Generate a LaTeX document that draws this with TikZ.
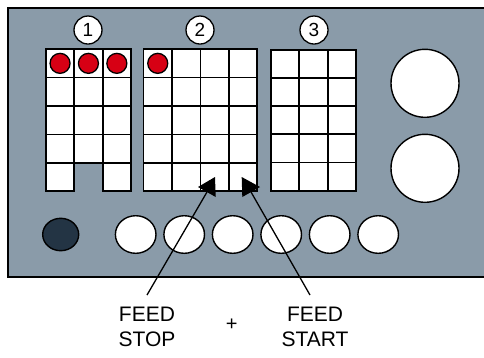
\documentclass[tikz,border=0pt]{standalone}
\usepackage{fontspec}
\setmainfont{Liberation Sans}
\usetikzlibrary{shapes.geometric,positioning}
\definecolor{panelgrey}{RGB}{138,155,169}
\definecolor{knobdark}{RGB}{35,52,68}
\definecolor{ledred}{RGB}{215,0,20}

\tikzset{
  cell/.style={draw,fill=white,line width=1.7pt,minimum size=28.4pt,inner sep=0pt,anchor=north west},
  led/.style={circle,draw,fill=ledred,line width=1.3pt,minimum size=20pt,inner sep=0pt},
  tag/.style={circle,draw,fill=white,line width=1.3pt,minimum size=28pt,inner sep=0pt,font=\fontsize{19}{19}\selectfont},
  bigknob/.style={circle,draw,fill=white,line width=1.4pt,minimum size=68pt,inner sep=0pt},
  key/.style={ellipse,draw,fill=white,line width=1.4pt,minimum width=40.6pt,minimum height=37.6pt,inner sep=0pt},
  label/.style={align=center,font=\fontsize{21}{25}\selectfont}
}

\begin{document}
\begin{tikzpicture}[x=1pt,y=-1pt]
  \useasboundingbox (0,0) rectangle (484,357);
  % panel
  \begin{scope}
    \clip (0,0) rectangle (484,357);
    \draw[fill=panelgrey,line width=1.6pt] (8,8) rectangle (492,277);
  \end{scope}
  % block 1
  \foreach \c in {0,1,2}
    \foreach \r in {0,...,3}
      \node[cell] (a\c\r) at ({45+28.4*\c},{48.3+28.4*\r}) {};
  \foreach \c in {0,2}
    \node[cell] (a\c4) at ({45+28.4*\c},{48.3+28.4*4}) {};
  % block 2
  \foreach \c in {0,...,3}
    \foreach \r in {0,...,4}
      \node[cell] (b\c\r) at ({142.7+28.4*\c},{48.3+28.4*\r}) {};
  % block 3
  \foreach \c in {0,1,2}
    \foreach \r in {0,...,4}
      \node[cell] (c\c\r) at ({270+28.4*\c},{48.8+28.2*\r}) {};
  % leds
  \foreach \c in {0,1,2}
    \node[led] at (a\c0.center) {};
  \node[led] at (b00.center) {};
  % block numbers
  \node[tag] (t1) at (88,30) {1};
  \node[tag] (t2) at (200,30) {2};
  \node[tag] (t3) at (314,30) {3};
  % right knobs
  \node[bigknob] (k1) at (425,83.3) {};
  \node[bigknob] (k2) at (425,168.3) {};
  % bottom keys
  \node[key,fill=knobdark,minimum width=36pt,minimum height=32.4pt] (dk) at (60.7,234.5) {};
  \foreach \i in {0,...,5}
    \node[key] (key\i) at ({135.7+48.5*\i},234.5) {};
  % labels
  \node[label] (stop) at (147,327) {FEED\\STOP};
  \node[label] (start) at (315,327) {FEED\\START};
  \node[font=\fontsize{20}{20}\selectfont] (plus) at (231.7,325) {+};
  % arrows
  \coordinate (stoptail) at (147,295);
  \coordinate (stophead) at (207,192);
  \coordinate (starttail) at (310,295);
  \coordinate (starthead) at (251,192);
  \draw[line width=1.3pt] (stoptail) -- (stophead);
  \draw[line width=1.3pt] (starttail) -- (starthead);
  \fill (198,187) -- (215,177) -- (215.7,197) -- cycle;
  \fill (260,187) -- (241.7,177) -- (242.3,197) -- cycle;
\end{tikzpicture}
\end{document}
